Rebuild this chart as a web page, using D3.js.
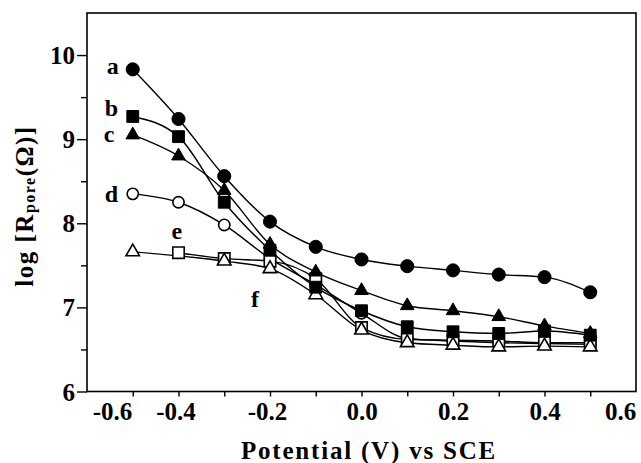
<!DOCTYPE html>
<html>
<head>
<meta charset="utf-8">
<script src="https://cdn.jsdelivr.net/npm/d3@7"></script>
<style>
  html, body { margin: 0; padding: 0; background: #fff; }
  svg { display: block; }
  text { font-family: "Liberation Serif", "Times New Roman", serif; font-weight: bold; fill: #000; }
</style>
</head>
<body>
<svg id="chart" width="641" height="463"></svg>
<script>
// ---- data ----
const seriesA = [[-0.5, 9.83], [-0.4, 9.24], [-0.3, 8.56], [-0.2, 8.02], [-0.1, 7.72], [0.0, 7.57], [0.1, 7.49], [0.2, 7.44], [0.3, 7.39], [0.4, 7.36], [0.5, 7.18]];
const seriesB = [[-0.5, 9.27], [-0.4, 9.03], [-0.3, 8.25], [-0.2, 7.68], [-0.1, 7.24], [0.0, 6.96], [0.1, 6.77], [0.2, 6.71], [0.3, 6.69], [0.4, 6.72], [0.5, 6.67]];
const seriesC = [[-0.5, 9.05], [-0.4, 8.80], [-0.3, 8.39], [-0.2, 7.75], [-0.1, 7.42], [0.0, 7.20], [0.1, 7.02], [0.2, 6.96], [0.3, 6.89], [0.4, 6.78], [0.5, 6.69]];
const seriesD = [[-0.5, 8.35], [-0.4, 8.25], [-0.3, 7.98], [-0.2, 7.58], [-0.1, 7.27], [0.0, 6.93], [0.1, 6.63], [0.2, 6.60], [0.3, 6.58], [0.4, 6.57], [0.5, 6.56]];
const seriesE = [[-0.4, 7.65], [-0.3, 7.58], [-0.2, 7.55], [-0.1, 7.34], [0.0, 6.76], [0.1, 6.62], [0.2, 6.61], [0.3, 6.60], [0.4, 6.58], [0.5, 6.58]];
const seriesF = [[-0.5, 7.66], [-0.3, 7.55], [-0.2, 7.46], [-0.1, 7.15], [0.0, 6.73], [0.1, 6.58], [0.2, 6.55], [0.3, 6.53], [0.4, 6.54], [0.5, 6.53]];

const xTicksMajor = [-0.6, -0.4, -0.2, 0.0, 0.2, 0.4, 0.6];
const xTicksMinor = [-0.5, -0.4, -0.3, -0.2, -0.1, 0.0, 0.1, 0.2, 0.3, 0.4, 0.5];
const yTicksMajor = [6, 7, 8, 9, 10];
const yTicksMinor = [6.5, 7.5, 8.5, 9.5];
const xLabel = "Potential (V) vs SCE";

// ---- layout ----
const svg = d3.select("#chart");
const L = 87, R = 636, T = 13, B = 391.5;
const x = d3.scaleLinear().domain([-0.6, 0.6]).range([L, R]);
const y = d3.scaleLinear().domain([6, 10.5]).range([B, T]);
const FONT = "'Liberation Serif', 'Times New Roman', serif";

// frame
svg.append("rect").attr("x", L).attr("y", T).attr("width", R - L).attr("height", B - T)
  .attr("fill", "none").attr("stroke", "#000").attr("stroke-width", 1.6);

// x axis ticks (every 0.1)
const xAxis = svg.append("g").attr("transform", `translate(0,${B})`)
  .call(d3.axisBottom(x).tickValues(xTicksMinor).tickSize(5).tickFormat(""));
xAxis.select(".domain").remove();
xAxis.selectAll("line").attr("stroke-width", 1.4);

// x labels
const xl = svg.append("g").attr("transform", `translate(0,${B})`)
  .call(d3.axisBottom(x).tickValues(xTicksMajor).tickSize(0).tickPadding(0)
    .tickFormat(d => d3.format(".1f")(d).replace("−", "-")));
xl.attr("font-family", null).attr("font-size", null);
xl.select(".domain").remove();
xl.selectAll("text")
  .style("font-size", "25px").style("font-family", FONT).style("font-weight", "bold")
  .attr("y", 28).attr("dy", 0)
  .attr("dx", d => d === -0.6 ? 25 : (d === 0.6 ? -16 : (d < 0 ? -3 : 0)));

// y axis
const yAxisMaj = svg.append("g").attr("transform", `translate(${L},0)`)
  .call(d3.axisLeft(y).tickValues(yTicksMajor).tickSize(10).tickPadding(2).tickFormat(d3.format("d")));
yAxisMaj.attr("font-family", null).attr("font-size", null);
yAxisMaj.select(".domain").remove();
yAxisMaj.selectAll("line").attr("stroke-width", 1.4);
yAxisMaj.selectAll("text")
  .style("font-size", "25px").style("font-family", FONT).style("font-weight", "bold")
  .attr("dy", "0.34em");
const yAxisMin = svg.append("g").attr("transform", `translate(${L},0)`)
  .call(d3.axisLeft(y).tickValues(yTicksMinor).tickSize(6).tickFormat(""));
yAxisMin.select(".domain").remove();
yAxisMin.selectAll("line").attr("stroke-width", 1.4);

// axis titles
svg.append("text").attr("x", 369).attr("y", 459).attr("text-anchor", "middle")
  .style("font-size", "25px").style("letter-spacing", "1.8px").text(xLabel);

const yt = svg.append("text").attr("transform", "translate(33,206) rotate(-90)")
  .attr("text-anchor", "middle").style("font-size", "25px").style("letter-spacing", "1.5px");
yt.append("tspan").text("log [R");
yt.append("tspan").style("font-size", "16px").attr("dy", 2).text("pore");
yt.append("tspan").attr("dy", -2).text("(Ω)]");

// ---- series ----
const series = [
  { name: "d", data: seriesD, shape: d3.symbolCircle, size: 100, filled: false },
  { name: "e", data: seriesE, shape: d3.symbolSquare, size: 130, filled: false },
  { name: "f", data: seriesF, shape: d3.symbolTriangle, size: 80, filled: false },
  { name: "b", data: seriesB, shape: d3.symbolSquare, size: 140, filled: true },
  { name: "c", data: seriesC, shape: d3.symbolTriangle, size: 80, filled: true },
  { name: "a", data: seriesA, shape: d3.symbolCircle, size: 135, filled: true }
];

const line = d3.line().x(d => x(d[0])).y(d => y(d[1])).curve(d3.curveMonotoneX);

series.forEach(s => {
  svg.append("path").datum(s.data).attr("d", line)
    .attr("fill", "none").attr("stroke", "#000").attr("stroke-width", 1.4);
});
series.forEach(s => {
  svg.append("g").selectAll("path").data(s.data).join("path")
    .attr("transform", d => `translate(${x(d[0])},${y(d[1])})`)
    .attr("d", d3.symbol().type(s.shape).size(s.size))
    .attr("fill", s.filled ? "#000" : "#fff")
    .attr("stroke", "#000").attr("stroke-width", s.filled ? 1 : 1.6);
});

// ---- curve letters ----
const letters = [
  { t: "a", s: seriesA, i: 0, dx: -26, dy: 5 },
  { t: "b", s: seriesB, i: 0, dx: -28, dy: 0 },
  { t: "c", s: seriesC, i: 0, dx: -29, dy: 7 },
  { t: "d", s: seriesD, i: 0, dx: -28, dy: 8 },
  { t: "e", s: seriesE, i: 0, dx: -7, dy: -14 },
  { t: "f", s: seriesF, i: 2, dx: -19, dy: 38 }
];
letters.forEach(l => {
  svg.append("text").attr("x", x(l.s[l.i][0]) + l.dx).attr("y", y(l.s[l.i][1]) + l.dy)
    .style("font-size", "24px").text(l.t);
});
</script>
</body>
</html>
